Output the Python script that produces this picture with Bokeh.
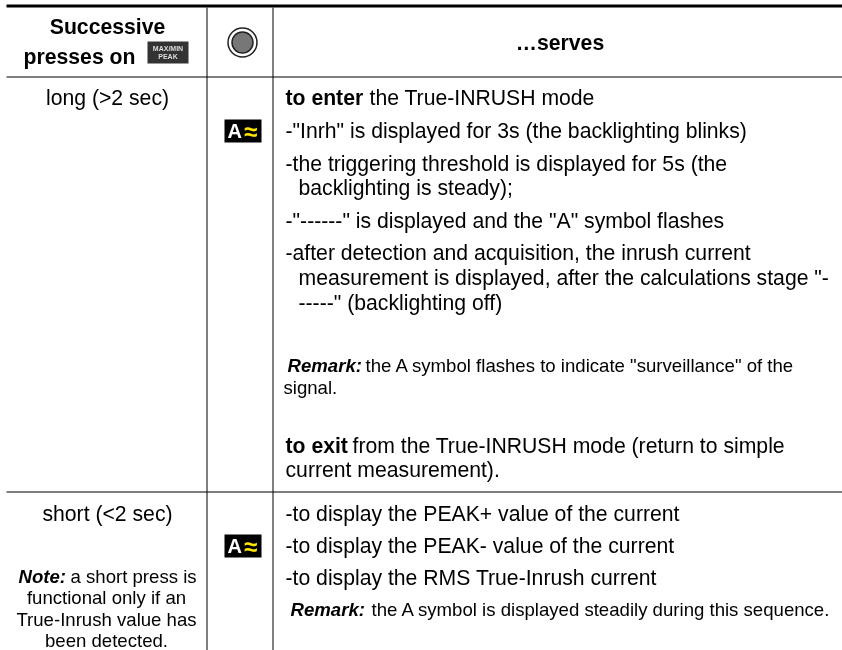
from bokeh.plotting import figure
from bokeh.models import Range1d
from bokeh.core.properties import value
from bokeh.embed import file_html
from bokeh.resources import INLINE

FONT = "Liberation Sans"
N, B, BI = "normal", "bold", "bold italic"
L, C = "left", "center"
S, M = 21.2, 18.6

# (text, style, x, centre y, anchor, size)
items = [
 ("Successive", B, 107, 26, C, S),
 ("presses on", B, 79, 56, C, S),
 ("…serves", B, 559.5, 42, C, S),
 ("long (>2 sec)", N, 107, 97, C, S),
 ("to enter", B, 285, 97, L, S),
 ("the True-INRUSH mode", N, 369, 97, L, S),
 ("-\"Inrh\" is displayed for 3s (the backlighting blinks)", N, 285, 130, L, S),
 ("-the triggering threshold is displayed for 5s (the", N, 285, 163, L, S),
 ("backlighting is steady);", N, 298, 187, L, S),
 ("-\"------\" is displayed and the \"A\" symbol flashes", N, 285, 220, L, S),
 ("-after detection and acquisition, the inrush current", N, 285, 252, L, S),
 ("measurement is displayed, after the calculations stage \"-", N, 298, 277, L, S),
 ("-----\" (backlighting off)", N, 298, 302, L, S),
 ("Remark:", BI, 287, 365, L, M),
 ("the A symbol flashes to indicate \"surveillance\" of the", N, 365, 365, L, M),
 ("signal.", N, 283, 387, L, M),
 ("to exit", B, 285, 445, L, S),
 ("from the True-INRUSH mode (return to simple", N, 352, 445, L, S),
 ("current measurement).", N, 285, 469, L, S),
 ("short (<2 sec)", N, 107, 513, C, S),
 ("Note:", BI, 18, 576, L, M),
 ("a short press is", N, 70, 576, L, M),
 ("functional only if an", N, 106, 597, C, M),
 ("True-Inrush value has", N, 106, 619, C, M),
 ("been detected.", N, 106, 640, C, M),
 ("-to display the PEAK+ value of the current", N, 285, 513, L, S),
 ("-to display the PEAK- value of the current", N, 285, 545, L, S),
 ("-to display the RMS True-Inrush current", N, 285, 577, L, S),
 ("Remark:", BI, 290, 609, L, M),
 ("the A symbol is displayed steadily during this sequence.", N, 371, 609, L, M),
]

p = figure(width=842, height=650, x_range=Range1d(0, 842), y_range=Range1d(650, 0),
           output_backend="svg", toolbar_location=None, min_border=0,
           outline_line_color=None,
           styles={"position": "fixed", "left": "0px", "top": "0px"})
p.axis.visible = False
p.grid.visible = False

p.segment([6], [5.5], [842], [5.5], line_color="black", line_width=3)
p.segment([6, 6], [76.5, 491.5], [842, 842], [76.5, 491.5], line_color="black", line_width=1)
p.segment([206.5, 272.5], [7, 7], [206.5, 272.5], [650, 650], line_color="black", line_width=1)

p.scatter([242], [42], size=29, fill_color="white", line_color="#222222", line_width=1.5)
p.scatter([242], [42], size=21, fill_color="#777777", line_color="#222222", line_width=1.5)

p.quad(left=[147], right=[188], top=[41], bottom=[63], fill_color="#333333", line_color=None)
p.text([167.5], [48], text=["MAX/MIN"], text_font=value(FONT), text_font_style="bold", text_font_size="7px",
       text_color="#dddddd", text_align="center", text_baseline="middle")
p.text([167.5], [56], text=["PEAK"], text_font=value(FONT), text_font_style="bold", text_font_size="7px",
       text_color="#dddddd", text_align="center", text_baseline="middle")

for y0 in (119, 534):
    p.quad(left=[224], right=[261], top=[y0], bottom=[y0 + 23], fill_color="black", line_color=None)
    p.text([227], [y0 + 11.5], text=["A"], text_font=value(FONT), text_font_style="bold", text_font_size="20px",
           text_color="white", text_align="left", text_baseline="middle")
    p.text([250], [y0 + 12], text=["≈"], text_font=value(FONT), text_font_style="bold", text_font_size="24px",
           text_color="#ffe600", text_align="center", text_baseline="middle")

for t, st, x, y, a, s in items:
    p.text([x], [y], text=[t], text_font=value(FONT), text_font_style=st, text_font_size=f"{s}px",
           text_color="black", text_align=a, text_baseline="middle")

open("out.html", "w").write(file_html(p, INLINE))
